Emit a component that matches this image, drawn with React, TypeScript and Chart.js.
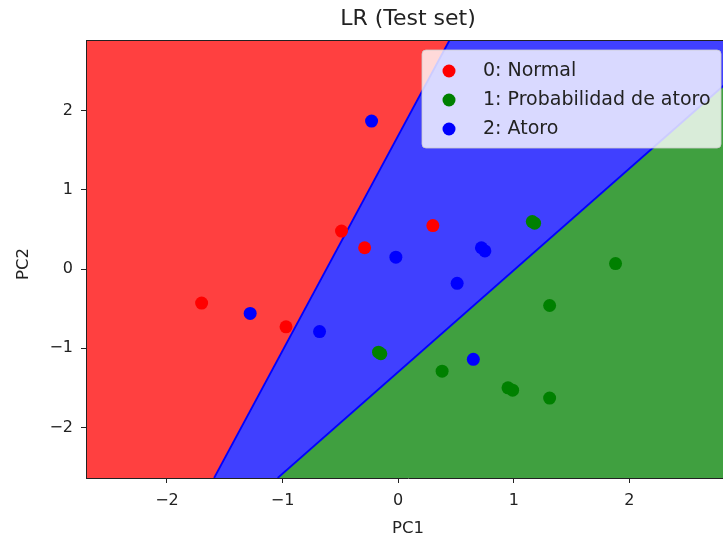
import React, { useEffect, useRef } from 'react';
import { Chart, registerables } from 'chart.js';

Chart.register(...registerables);

// ---- axis extents and ticks ----
const X_MIN = -2.7;
const X_MAX = 2.87;
const Y_MIN = -2.64;
const Y_MAX = 2.895;
const xTicks = [-2, -1, 0, 1, 2];
const yTicks = [-2, -1, 0, 1, 2];

// ---- decision boundaries (x at bottom edge, x at top edge) ----
const redBlueBoundaryX = [-1.592, 0.445];
const blueGreenBoundaryX = [-1.042, 3.263];

// ---- test-set points ----
const normalX = [-1.7, -0.97, -0.49, -0.29, 0.3];
const normalY = [-0.43, -0.73, 0.48, 0.27, 0.55];

const probX = [-0.17, -0.15, 0.38, 0.95, 0.99, 1.16, 1.18, 1.31, 1.31, 1.88];
const probY = [-1.05, -1.07, -1.29, -1.5, -1.53, 0.6, 0.58, -0.46, -1.63, 0.07];

const atoroX = [-1.28, -0.68, -0.23, -0.02, 0.51, 0.65, 0.72, 0.75];
const atoroY = [-0.56, -0.79, 1.87, 0.15, -0.18, -1.14, 0.27, 0.23];

const legendLabels = ['0: Normal', '1: Probabilidad de atoro', '2: Atoro'];
const pointColors = ['#ff0000', '#008000', '#0000ff'];
const regionColors = ['#ff4040', '#40a040', '#4040ff'];

const TITLE = 'LR (Test set)';
const X_LABEL = 'PC1';
const Y_LABEL = 'PC2';

const FONT = "'DejaVu Sans', sans-serif";
const TEXT = '#222222';

const zip = (xs: number[], ys: number[]) => xs.map((x, i) => ({ x, y: ys[i] }));

const decorPlugin = {
  id: 'decor',
  afterDraw(chart: any) {
    const { ctx, chartArea } = chart;
    const { left, right, top, bottom } = chartArea;
    ctx.save();
    // top spine
    ctx.strokeStyle = TEXT;
    ctx.lineWidth = 1;
    ctx.beginPath();
    ctx.moveTo(left, top + 0.5);
    ctx.lineTo(right, top + 0.5);
    ctx.stroke();

    // title
    ctx.fillStyle = TEXT;
    ctx.textAlign = 'center';
    ctx.textBaseline = 'middle';
    ctx.font = `22px ${FONT}`;
    ctx.fillText(TITLE, (left + right) / 2, 19);

    // axis labels
    ctx.font = `16.5px ${FONT}`;
    ctx.fillText(X_LABEL, (left + right) / 2, 529);
    ctx.save();
    ctx.translate(24, (top + bottom) / 2 + 5);
    ctx.rotate(-Math.PI / 2);
    ctx.fillText(Y_LABEL, 0, 0);
    ctx.restore();

    // legend
    const bx = 422, by = 50, bw = 299, bh = 98, r = 4;
    ctx.beginPath();
    ctx.moveTo(bx + r, by);
    ctx.lineTo(bx + bw - r, by);
    ctx.arcTo(bx + bw, by, bx + bw, by + r, r);
    ctx.lineTo(bx + bw, by + bh - r);
    ctx.arcTo(bx + bw, by + bh, bx + bw - r, by + bh, r);
    ctx.lineTo(bx + r, by + bh);
    ctx.arcTo(bx, by + bh, bx, by + bh - r, r);
    ctx.lineTo(bx, by + r);
    ctx.arcTo(bx, by, bx + r, by, r);
    ctx.closePath();
    ctx.fillStyle = 'rgba(255,255,255,0.8)';
    ctx.fill();
    ctx.strokeStyle = 'rgba(204,204,204,0.8)';
    ctx.stroke();

    const rows = [71, 100, 129];
    ctx.font = `19px ${FONT}`;
    ctx.textAlign = 'left';
    legendLabels.forEach((lab, i) => {
      ctx.fillStyle = pointColors[i];
      ctx.beginPath();
      ctx.arc(449, rows[i], 6.5, 0, Math.PI * 2);
      ctx.fill();
      ctx.fillStyle = TEXT;
      ctx.fillText(lab, 483, rows[i]);
    });
    ctx.restore();
  },
};

const fmt = (v: number) => (v < 0 ? '\u2212' + Math.abs(v) : String(v));

export default function App() {
  const ref = useRef<HTMLCanvasElement>(null);

  useEffect(() => {
    if (!ref.current) return;
    const pointDs = (label: string, data: any[], color: string) => ({
      type: 'line' as const,
      label,
      data,
      showLine: false,
      pointRadius: 6.5,
      pointHoverRadius: 6.5,
      pointBorderWidth: 0,
      pointBackgroundColor: color,
      pointBorderColor: color,
      backgroundColor: color,
      borderColor: color,
      fill: false,
      order: 0,
    });
    const lineDs = (data: any[]) => ({
      type: 'line' as const,
      data,
      borderColor: '#0000ff',
      borderWidth: 1.8,
      pointRadius: 0,
      fill: false,
      tension: 0,
      order: 1,
    });
    const regionDs = (data: any[], color: string, fill: string, order: number) => ({
      type: 'line' as const,
      data,
      borderColor: 'rgba(0,0,0,0)',
      borderWidth: 0,
      backgroundColor: color,
      pointRadius: 0,
      fill,
      tension: 0,
      order,
    });

    const chart = new Chart(ref.current, {
      type: 'line',
      data: {
        datasets: [
          pointDs(legendLabels[0], zip(normalX, normalY), pointColors[0]),
          pointDs(legendLabels[1], zip(probX, probY), pointColors[1]),
          pointDs(legendLabels[2], zip(atoroX, atoroY), pointColors[2]),
          lineDs([
            { x: redBlueBoundaryX[0], y: Y_MIN },
            { x: redBlueBoundaryX[1], y: Y_MAX },
          ]),
          lineDs([
            { x: blueGreenBoundaryX[0], y: Y_MIN },
            { x: blueGreenBoundaryX[1], y: Y_MAX },
          ]),
          regionDs(
            [
              { x: X_MIN, y: Y_MIN },
              { x: redBlueBoundaryX[0], y: Y_MIN },
              { x: redBlueBoundaryX[1], y: Y_MAX },
            ],
            regionColors[0],
            'end',
            2
          ),
          regionDs(
            [
              { x: blueGreenBoundaryX[0], y: Y_MIN },
              { x: blueGreenBoundaryX[1], y: Y_MAX },
            ],
            regionColors[1],
            'start',
            2
          ),
          regionDs(
            [
              { x: X_MIN, y: Y_MAX },
              { x: blueGreenBoundaryX[1] + 0.1, y: Y_MAX },
            ],
            regionColors[2],
            'start',
            3
          ),
        ] as any,
      },
      options: {
        animation: false,
        responsive: false,
        events: [],
        layout: { padding: { left: 0, top: 40, right: 30, bottom: 0 } },
        plugins: {
          legend: { display: false },
          title: { display: false },
          tooltip: { enabled: false },
        },
        scales: {
          x: {
            type: 'linear',
            min: X_MIN,
            max: X_MAX,
            afterBuildTicks: (s: any) => {
              s.ticks = xTicks.map((v) => ({ value: v }));
            },
            afterFit: (s: any) => {
              s.height = 63;
            },
            grid: {
              display: true,
              drawOnChartArea: false,
              drawTicks: true,
              tickLength: 5,
              tickColor: TEXT,
              tickWidth: 1,
            },
            border: { display: true, color: TEXT, width: 1, z: 1 },
            ticks: {
              padding: 8,
              color: TEXT,
              font: { family: FONT, size: 16 },
              maxRotation: 0,
              callback: (v: any) => fmt(Number(v)),
            },
          },
          y: {
            type: 'linear',
            min: Y_MIN,
            max: Y_MAX,
            afterBuildTicks: (s: any) => {
              s.ticks = yTicks.map((v) => ({ value: v }));
            },
            afterFit: (s: any) => {
              s.width = 86;
            },
            grid: {
              display: true,
              drawOnChartArea: false,
              drawTicks: true,
              tickLength: 5,
              tickColor: TEXT,
              tickWidth: 1,
            },
            border: { display: true, color: TEXT, width: 1, z: 1 },
            ticks: {
              padding: 8,
              color: TEXT,
              font: { family: FONT, size: 16 },
              callback: (v: any) => fmt(Number(v)),
            },
          },
        },
      } as any,
      plugins: [decorPlugin],
    });
    return () => chart.destroy();
  }, []);

  return (
    <div
      style={{
        position: 'fixed',
        left: 0,
        top: 0,
        width: 723,
        height: 541,
        overflow: 'hidden',
        background: '#ffffff',
      }}
    >
      <canvas ref={ref} width={760} height={541} style={{ width: 760, height: 541, display: 'block' }} />
    </div>
  );
}
